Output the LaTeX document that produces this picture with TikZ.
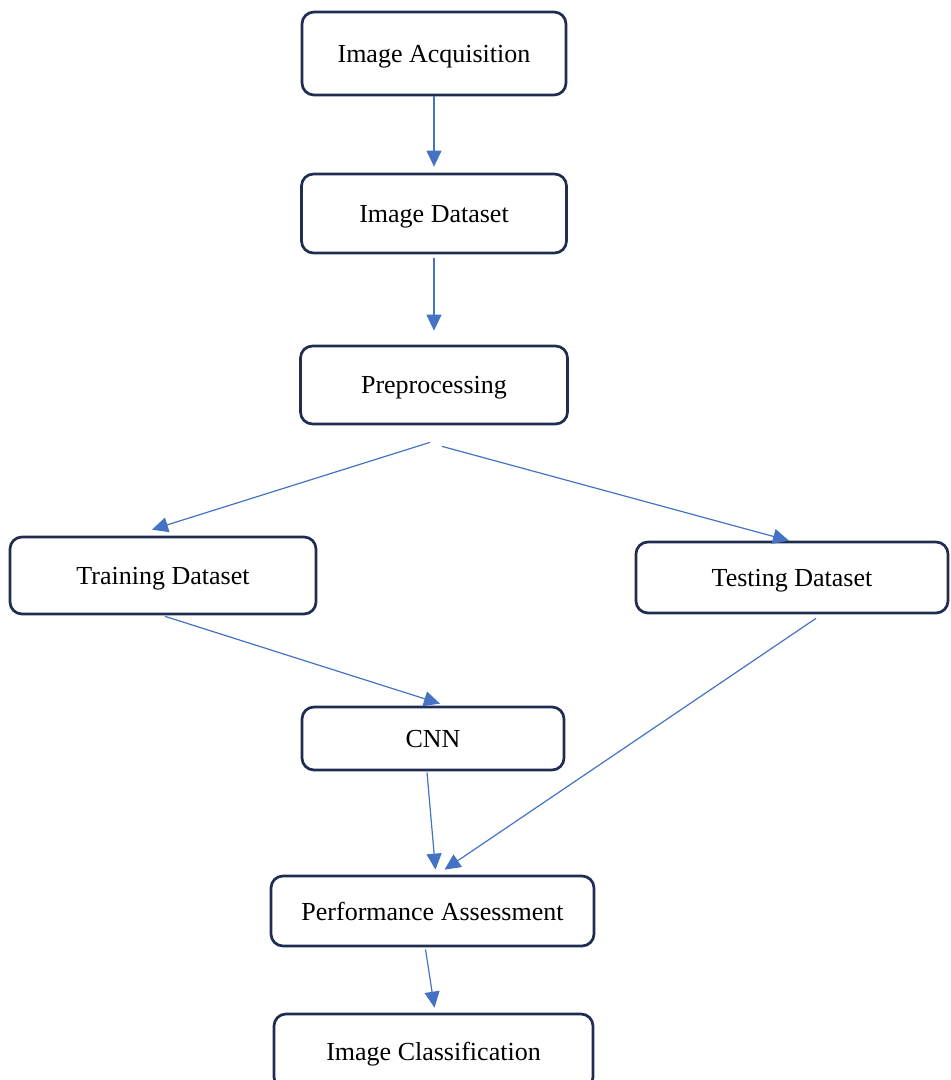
\documentclass[tikz,border=0pt]{standalone}
\usepackage{fontspec}
\setmainfont{Liberation Serif}
\usetikzlibrary{arrows.meta}
\definecolor{boxline}{RGB}{31,46,80}
\definecolor{flowblue}{RGB}{68,114,196}

\begin{document}
\begin{tikzpicture}[x=1pt, y=-1pt]
	\tikzstyle{Block} = [draw=boxline, line width=2.7pt, rounded corners=12pt, align=center, text depth=0pt, font=\fontsize{26}{30}\selectfont]
	\tikzstyle{Flow} = [draw=flowblue, line width=1.2pt, -{Triangle[width=15pt, length=16pt]}]
	
	\useasboundingbox (0,0) rectangle (951,1080);
	
	\node[name=acq, Block, minimum width=264pt, minimum height=83pt] at (434,53.5){Image Acquisition};
	\node[name=data, Block, minimum width=265pt, minimum height=79pt, below of=acq, node distance=160pt]{Image Dataset};
	\node[name=pre, Block, minimum width=267pt, minimum height=78pt, below of=data, node distance=171.5pt]{Preprocessing};
	
	\node[name=train, Block, minimum width=306pt, minimum height=77pt] at (163,575.5){Training Dataset};
	\node[name=test, Block, minimum width=312pt, minimum height=71pt] at (792,577.5){Testing Dataset};
	
	\node[name=cnn, Block, minimum width=262pt, minimum height=63pt] at (433,738.5){CNN};
	\node[name=perf, Block, minimum width=323pt, minimum height=70pt] at (432.5,911){Performance Assessment};
	\node[name=cls, Block, minimum width=319pt, minimum height=75pt] at (433.5,1051.5){Image Classification};
	
	\draw[Flow] (acq.south) -- ([yshift=6pt]data.north);
	\draw[Flow] ([yshift=-4pt]data.south) -- ([yshift=14pt]pre.north);
	\draw[Flow] ([xshift=-4pt, yshift=-17pt]pre.south) -- ([xshift=-11pt, yshift=6pt]train.north);
	\draw[Flow] ([xshift=8pt, yshift=-21pt]pre.south) -- ([xshift=-3pt, yshift=0pt]test.north);
	\draw[Flow] ([xshift=2pt, yshift=-1pt]train.south) -- ([xshift=7pt, yshift=2pt]cnn.north);
	\draw[Flow] ([xshift=-6pt, yshift=-1pt]cnn.south) -- ([xshift=3pt, yshift=5pt]perf.north);
	\draw[Flow] ([xshift=24pt, yshift=-4pt]test.south) -- ([xshift=12pt, yshift=5pt]perf.north);
	\draw[Flow] ([xshift=-7pt, yshift=-2pt]perf.south) -- ([xshift=1pt, yshift=5pt]cls.north);
\end{tikzpicture}
\end{document}
